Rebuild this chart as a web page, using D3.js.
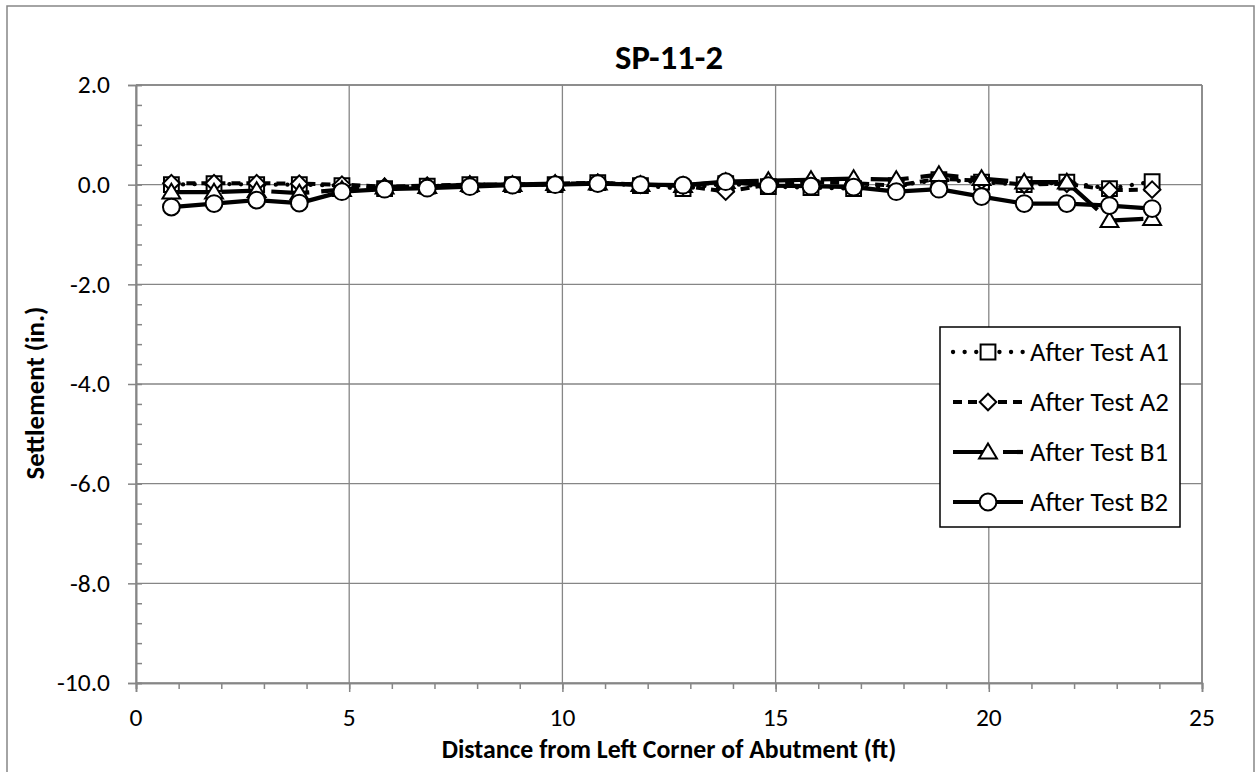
<!DOCTYPE html>
<html>
<head>
<meta charset="utf-8">
<script src="https://cdn.jsdelivr.net/npm/d3@7"></script>
<style>
  html, body { margin: 0; padding: 0; background: #fff; }
  svg { display: block; }
  text { font-family: Carlito, Lato, "Liberation Sans", sans-serif; fill: #000; }
</style>
</head>
<body>
<svg id="chart" width="1255" height="772"></svg>
<script>
// ---------------- data ----------------
const chartTitle = "SP-11-2";
const xAxisTitle = "Distance from Left Corner of Abutment (ft)";
const yAxisTitle = "Settlement (in.)";
const xTicks = [0, 5, 10, 15, 20, 25];
const xTickLabels = ["0", "5", "10", "15", "20", "25"];
const yTicks = [2, 0, -2, -4, -6, -8, -10];
const yTickLabels = ["2.0", "0.0", "-2.0", "-4.0", "-6.0", "-8.0", "-10.0"];
const seriesNames = ["After Test A1", "After Test A2", "After Test B1", "After Test B2"];

const distance = [0.83, 1.83, 2.83, 3.83, 4.83, 5.83, 6.83, 7.83, 8.83, 9.83, 10.83, 11.83,
                  12.83, 13.83, 14.83, 15.83, 16.83, 17.83, 18.83, 19.83, 20.83, 21.83, 22.83, 23.83];
const afterA1 = [0.00, 0.02, 0.00, 0.00, -0.02, -0.08, -0.03, 0.00, 0.00, 0.00, 0.04, -0.02,
                 -0.08, 0.02, -0.04, -0.06, -0.08, -0.02, 0.10, 0.05, 0.00, 0.05, -0.08, 0.06];
const afterA2 = [0.03, 0.03, 0.03, 0.02, 0.00, -0.04, -0.02, 0.00, 0.00, 0.02, 0.04, 0.00,
                 -0.02, -0.14, 0.00, 0.05, 0.03, -0.02, 0.12, 0.08, 0.00, 0.02, -0.11, -0.10];
const afterB1 = [-0.15, -0.15, -0.12, -0.17, -0.10, -0.05, -0.04, 0.00, 0.00, 0.02, 0.03, 0.00,
                 -0.02, 0.06, 0.08, 0.10, 0.12, 0.10, 0.20, 0.12, 0.05, 0.05, -0.72, -0.68];
const afterB2 = [-0.45, -0.38, -0.31, -0.37, -0.14, -0.09, -0.07, -0.04, -0.01, 0.00, 0.02, 0.00,
                 -0.01, 0.06, -0.02, -0.03, -0.05, -0.14, -0.09, -0.24, -0.38, -0.38, -0.42, -0.48];

// ---------------- layout ----------------
const svg = d3.select("#chart");
const plot = { left: 136, right: 1202, top: 85, bottom: 683 };
const gridColor = "#868686";

const x = d3.scaleLinear().domain([0, 25]).range([plot.left, plot.right]);
const y = d3.scaleLinear().domain([-10, 2]).range([plot.bottom, plot.top]);

function fitWidth(sel, target) {
  const w = sel.node().getComputedTextLength();
  const fs = parseFloat(sel.attr("font-size"));
  const nfs = fs * target / w;
  sel.attr("font-size", nfs);
  return nfs;
}

// chart area border
svg.append("rect").attr("x", 7).attr("y", 6).attr("width", 1247).attr("height", 800)
  .attr("fill", "#fff").attr("stroke", gridColor).attr("stroke-width", 1.5);

// gridlines
const grid = svg.append("g");
grid.selectAll("line.h").data(yTicks).join("line")
  .attr("x1", plot.left).attr("x2", plot.right)
  .attr("y1", d => y(d)).attr("y2", d => y(d))
  .attr("stroke", gridColor).attr("stroke-width", 1.3);
grid.selectAll("line.v").data(xTicks).join("line")
  .attr("y1", plot.top).attr("y2", plot.bottom)
  .attr("x1", d => x(d)).attr("x2", d => x(d))
  .attr("stroke", gridColor).attr("stroke-width", 1.3);

// axes
const xAxisG = svg.append("g").attr("transform", `translate(0,${plot.bottom})`);
xAxisG.call(d3.axisBottom(x).tickValues(d3.range(0, 26, 1)).tickSize(6).tickFormat(""));
xAxisG.call(g => g.append("g").call(d3.axisBottom(x).tickValues(xTicks).tickSize(9).tickFormat("")));
xAxisG.selectAll("path.domain").attr("stroke", gridColor).attr("stroke-width", 1.6);
xAxisG.selectAll("line").attr("stroke", gridColor).attr("stroke-width", 1.5);

const yAxisG = svg.append("g").attr("transform", `translate(${plot.left},0)`);
yAxisG.call(d3.axisRight(y).tickValues(d3.range(-10, 2.001, 0.4)).tickSize(6).tickFormat(""));
yAxisG.call(g => g.append("g").call(d3.axisLeft(y).tickValues(yTicks).tickSize(8).tickFormat("")));
yAxisG.selectAll("path.domain").attr("stroke", gridColor).attr("stroke-width", 1.6);
yAxisG.selectAll("line").attr("stroke", gridColor).attr("stroke-width", 1.5);

// top & right frame of plot area
svg.append("line").attr("x1", plot.left).attr("x2", plot.right).attr("y1", plot.top).attr("y2", plot.top)
  .attr("stroke", gridColor).attr("stroke-width", 1.6);
svg.append("line").attr("x1", plot.right).attr("x2", plot.right).attr("y1", plot.top).attr("y2", plot.bottom)
  .attr("stroke", gridColor).attr("stroke-width", 1.6);

// tick labels
const tickFs = 25;
const yl = svg.append("g").selectAll("text").data(yTicks).join("text")
  .attr("x", 110).attr("text-anchor", "end").attr("font-size", tickFs)
  .attr("y", d => y(d) + tickFs * 0.33)
  .text((d, i) => yTickLabels[i]);
const xl = svg.append("g").selectAll("text").data(xTicks).join("text")
  .attr("x", d => x(d)).attr("text-anchor", "middle").attr("font-size", tickFs)
  .attr("y", 718 + tickFs * 0.33)
  .text((d, i) => xTickLabels[i]);
{
  const t = yl.filter((d, i) => i === yTicks.length - 1);
  const nfs = fitWidth(t, 53);
  yl.attr("font-size", nfs).attr("y", d => y(d) + nfs * 0.33);
  xl.attr("font-size", nfs).attr("y", 718 + nfs * 0.33);
}

// titles
const tt = svg.append("text").attr("x", (plot.left + plot.right) / 2).attr("text-anchor", "middle")
  .attr("font-weight", "bold").attr("font-size", 33).text(chartTitle);
{ const fs = fitWidth(tt, 108); tt.attr("y", 57 + fs * 0.34); }

const xt = svg.append("text").attr("x", (plot.left + plot.right) / 2).attr("text-anchor", "middle")
  .attr("font-weight", "bold").attr("font-size", 24).text(xAxisTitle);
{ const fs = fitWidth(xt, 455); xt.attr("y", 749 + fs * 0.34); }

const yt = svg.append("text").attr("text-anchor", "middle")
  .attr("font-weight", "bold").attr("font-size", 24).text(yAxisTitle);
{ const fs = fitWidth(yt, 173); yt.attr("transform", `translate(${35 + fs * 0.34},393) rotate(-90)`); }

// ---------------- series ----------------
const markerPath = {
  square: (s) => `M${-s},${-s}H${s}V${s}H${-s}Z`,
  diamond: (s) => `M0,${-s}L${s},0L0,${s}L${-s},0Z`,
  triangle: (s) => `M0,${-s}L${s * 1.05},${s * 0.75}L${-s * 1.05},${s * 0.75}Z`,
  circle: (s) => `M${s},0A${s},${s} 0 1,1 ${-s},0A${s},${s} 0 1,1 ${s},0Z`
};
const series = [
  { name: seriesNames[0], values: afterA1, marker: "square", size: 7.4, dash: "0.1 11.5", cap: "round", width: 4.3 },
  { name: seriesNames[1], values: afterA2, marker: "diamond", size: 8.3, dash: "9 6", cap: "butt", width: 4 },
  { name: seriesNames[2], values: afterB1, marker: "triangle", size: 8.5, dash: "38 12", cap: "butt", width: 4.2 },
  { name: seriesNames[3], values: afterB2, marker: "circle", size: 8.4, dash: null, cap: "butt", width: 4.2 }
];

const line = d3.line().x(d => x(d[0])).y(d => y(d[1]));
const plotG = svg.append("g");
series.forEach(s => {
  const pts = distance.map((d, i) => [d, s.values[i]]);
  const g = plotG.append("g");
  g.append("path").attr("d", line(pts)).attr("fill", "none").attr("stroke", "#000")
    .attr("stroke-width", s.width).attr("stroke-linecap", s.cap).attr("stroke-linejoin", "round")
    .attr("stroke-dasharray", s.dash);
  g.selectAll("path.m").data(pts).join("path").attr("class", "m")
    .attr("transform", d => `translate(${x(d[0])},${y(d[1])})`)
    .attr("d", markerPath[s.marker](s.size))
    .attr("fill", "#fff").attr("stroke", "#000").attr("stroke-width", 2);
});

// ---------------- legend ----------------
const leg = svg.append("g");
leg.append("rect").attr("x", 940).attr("y", 327).attr("width", 240).attr("height", 200)
  .attr("fill", "#fff").attr("stroke", "#000").attr("stroke-width", 1.5);
let legFs = null;
series.forEach((s, i) => {
  const cy = 352 + i * 50;
  leg.append("line").attr("x1", 953).attr("x2", 1023).attr("y1", cy).attr("y2", cy)
    .attr("stroke", "#000").attr("stroke-width", s.width).attr("stroke-linecap", s.cap)
    .attr("stroke-dasharray", s.dash);
  leg.append("path").attr("transform", `translate(988,${cy})`).attr("d", markerPath[s.marker](s.size))
    .attr("fill", "#fff").attr("stroke", "#000").attr("stroke-width", 2);
  const t = leg.append("text").attr("x", 1030).attr("font-size", 25).text(s.name);
  if (legFs === null) legFs = fitWidth(t, 139);
  t.attr("font-size", legFs).attr("y", cy + legFs * 0.34);
});
</script>
</body>
</html>
